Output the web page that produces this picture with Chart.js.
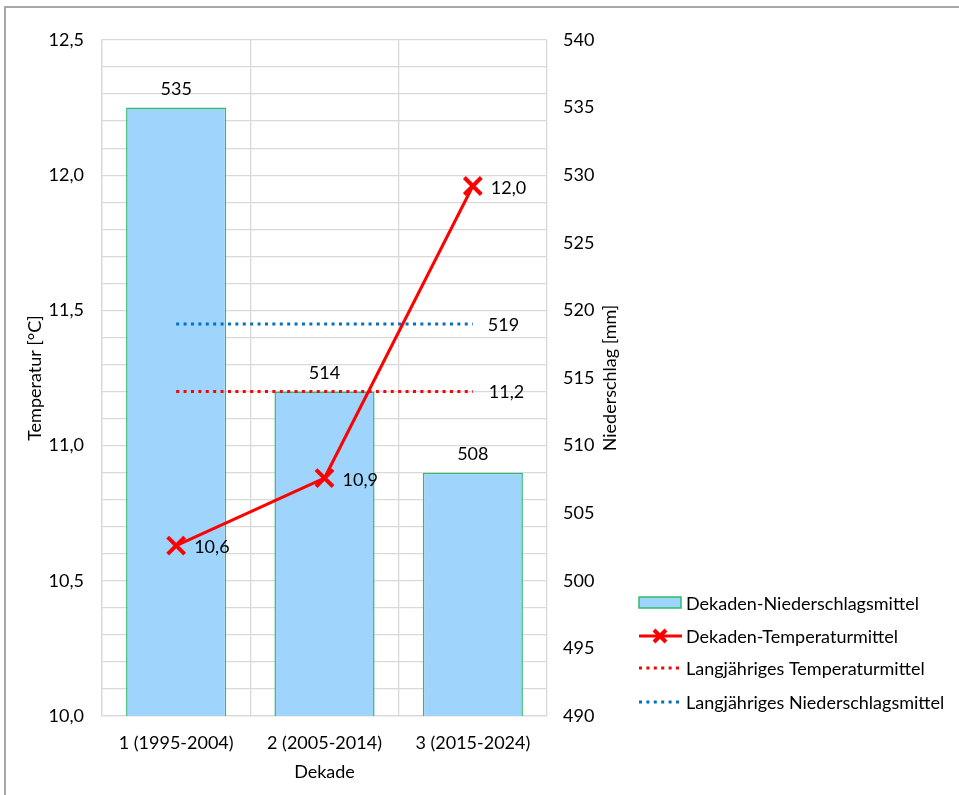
<!DOCTYPE html>
<html>
<head>
<meta charset="utf-8">
<script src="https://cdn.jsdelivr.net/npm/chart.js@4/dist/chart.umd.min.js"></script>
<style>
  html, body { margin: 0; padding: 0; background: #fff; }
  #wrap { position: relative; width: 959px; height: 795px; }
</style>
</head>
<body>
<div id="wrap"><canvas id="chart" width="959" height="795"></canvas></div>
<script>
const categories = ["1 (1995-2004)", "2 (2005-2014)", "3 (2015-2024)"];
const precipDecade = [535, 514, 508];
const tempDecade = [10.63, 10.88, 11.96];
const tempLongTerm = [11.2, 11.2, 11.2];
const precipLongTerm = [519, 519, 519];
const seriesNames = [
  "Dekaden-Niederschlagsmittel",
  "Dekaden-Temperaturmittel",
  "Langjähriges Temperaturmittel",
  "Langjähriges Niederschlagsmittel",
];

const FONT = "Lato, 'Open Sans', sans-serif";
const FS = 18;
const TXT = "#000000";
const RED = "#ff0000";
const BLUE = "#0070c0";
const BAR_FILL = "#9fd5fc";
const BAR_EDGE = "#2ebd6b";
const GRID = "#d9d9d9";

const comma = (v, d) => v.toFixed(d).replace(".", ",");

// labels, titles, legend and frame drawn on the canvas
const extras = {
  id: "extras",
  afterDatasetsDraw(chart) {
    const ctx = chart.ctx;
    const area = chart.chartArea;
    ctx.save();
    ctx.font = FS + "px " + FONT;
    ctx.fillStyle = TXT;

    // bar value labels
    chart.getDatasetMeta(0).data.forEach((bar, i) => {
      ctx.textAlign = "center";
      ctx.textBaseline = "middle";
      ctx.fillText(String(precipDecade[i]), bar.x, bar.y - 18);
    });
    // temperature labels
    chart.getDatasetMeta(1).data.forEach((pt, i) => {
      ctx.textAlign = "left";
      ctx.textBaseline = "middle";
      ctx.fillText(comma(tempDecade[i], 1), pt.x + 18, pt.y + 2);
    });
    // long-term labels at last point
    const lt = chart.getDatasetMeta(2).data;
    const lp = chart.getDatasetMeta(3).data;
    ctx.textAlign = "left";
    ctx.textBaseline = "middle";
    ctx.fillText(comma(tempLongTerm[2], 1), lt[2].x + 16, lt[2].y + 1);
    ctx.fillText(String(precipLongTerm[2]), lp[2].x + 15, lp[2].y + 1);

    // axis titles
    const midY = (area.top + area.bottom) / 2;
    ctx.textAlign = "center";
    ctx.textBaseline = "middle";
    ctx.save();
    ctx.translate(35, midY);
    ctx.rotate(-Math.PI / 2);
    ctx.fillText("Temperatur [°C]", 0, 0);
    ctx.restore();
    ctx.save();
    ctx.translate(610, midY);
    ctx.rotate(-Math.PI / 2);
    ctx.fillText("Niederschlag [mm]", 0, 0);
    ctx.restore();
    ctx.fillText("Dekade", (area.left + area.right) / 2, 772);

    // legend
    const lx = 639, tx = 686;
    const rows = [603, 636, 668, 702];
    ctx.textAlign = "left";
    ctx.textBaseline = "middle";
    // bar swatch
    ctx.fillStyle = BAR_FILL;
    ctx.fillRect(lx, rows[0] - 6, 42, 11);
    ctx.strokeStyle = BAR_EDGE;
    ctx.lineWidth = 1.5;
    ctx.strokeRect(lx, rows[0] - 6, 42, 11);
    // line with marker
    ctx.strokeStyle = RED;
    ctx.lineWidth = 3;
    ctx.beginPath();
    ctx.moveTo(lx, rows[1]);
    ctx.lineTo(lx + 43, rows[1]);
    ctx.stroke();
    ctx.lineWidth = 4;
    ctx.beginPath();
    ctx.moveTo(lx + 15, rows[1] - 6); ctx.lineTo(lx + 27, rows[1] + 6);
    ctx.moveTo(lx + 27, rows[1] - 6); ctx.lineTo(lx + 15, rows[1] + 6);
    ctx.stroke();
    // dotted lines
    ctx.lineWidth = 3;
    ctx.setLineDash([3, 4.4]);
    ctx.strokeStyle = RED;
    ctx.beginPath();
    ctx.moveTo(lx, rows[2]); ctx.lineTo(lx + 43, rows[2]);
    ctx.stroke();
    ctx.strokeStyle = BLUE;
    ctx.beginPath();
    ctx.moveTo(lx, rows[3]); ctx.lineTo(lx + 43, rows[3]);
    ctx.stroke();
    ctx.setLineDash([]);
    ctx.fillStyle = TXT;
    seriesNames.forEach((name, i) => ctx.fillText(name, tx, rows[i] + 1));

    // outer frame
    ctx.strokeStyle = "#8c8c8c";
    ctx.lineWidth = 1.5;
    ctx.beginPath();
    ctx.moveTo(5, 795);
    ctx.lineTo(5, 7);
    ctx.lineTo(959, 7);
    ctx.stroke();
    ctx.restore();
  },
};

new Chart(document.getElementById("chart"), {
  type: "bar",
  data: {
    labels: categories,
    datasets: [
      {
        type: "bar",
        label: seriesNames[0],
        data: precipDecade,
        yAxisID: "yP",
        backgroundColor: BAR_FILL,
        borderColor: BAR_EDGE,
        borderWidth: 1.5,
        barPercentage: 1,
        categoryPercentage: 0.675,
        order: 4,
      },
      {
        type: "line",
        label: seriesNames[1],
        data: tempDecade,
        yAxisID: "yT",
        borderColor: RED,
        borderWidth: 3,
        pointStyle: "crossRot",
        pointRadius: 12,
        pointBorderWidth: 4,
        pointBorderColor: RED,
        pointBackgroundColor: RED,
        tension: 0,
        order: 1,
      },
      {
        type: "line",
        label: seriesNames[2],
        data: tempLongTerm,
        yAxisID: "yT",
        borderColor: RED,
        borderWidth: 3,
        borderDash: [3, 4.4],
        pointRadius: 0,
        order: 2,
      },
      {
        type: "line",
        label: seriesNames[3],
        data: precipLongTerm,
        yAxisID: "yP",
        borderColor: BLUE,
        borderWidth: 3,
        borderDash: [3, 4.4],
        pointRadius: 0,
        order: 3,
      },
    ],
  },
  options: {
    responsive: false,
    animation: false,
    layout: { padding: { top: 40, left: 0, right: 0, bottom: 0 } },
    plugins: {
      legend: { display: false },
      tooltip: { enabled: false },
    },
    scales: {
      x: {
        afterFit: (s) => { s.height = 79; },
        grid: { color: GRID, lineWidth: 1.3, drawTicks: false, offset: true },
        border: { color: GRID, width: 1.3 },
        ticks: { color: TXT, font: { family: FONT, size: FS }, padding: 16 },
      },
      yT: {
        position: "left",
        min: 10,
        max: 12.5,
        afterFit: (s) => { s.width = 102; },
        afterBuildTicks: (s) => {
          s.ticks = [];
          for (let i = 0; i <= 25; i++) s.ticks.push({ value: 10 + i * 0.1 });
        },
        grid: { color: GRID, lineWidth: 1.3, drawTicks: false },
        border: { color: GRID, width: 1.3 },
        ticks: {
          color: TXT,
          font: { family: FONT, size: FS },
          padding: 18,
          autoSkip: false,
          callback: (v) => {
            const r = Math.round(v * 10);
            return r % 5 === 0 ? comma(r / 10, 1) : "";
          },
        },
      },
      yP: {
        position: "right",
        min: 490,
        max: 540,
        afterFit: (s) => { s.width = 959 - 547; },
        grid: { display: false, drawTicks: false },
        border: { display: false },
        ticks: {
          color: TXT,
          font: { family: FONT, size: FS },
          stepSize: 5,
          padding: 16,
        },
      },
    },
  },
  plugins: [extras],
});
</script>
</body>
</html>
